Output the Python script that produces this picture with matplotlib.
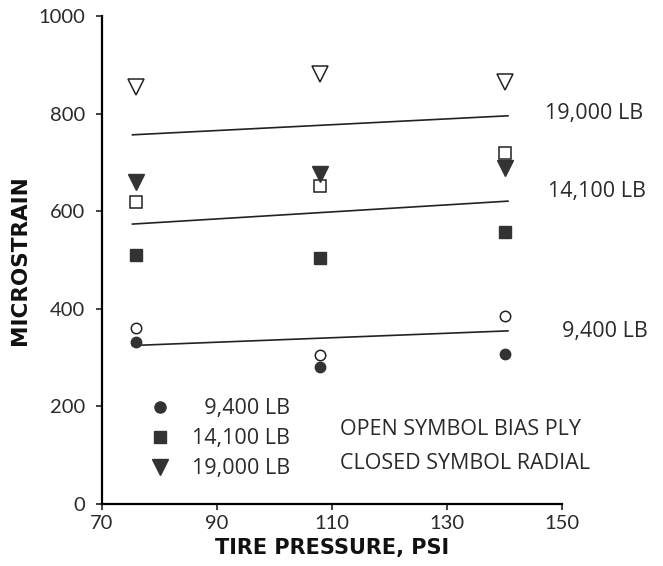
import matplotlib
matplotlib.use("Agg")
import matplotlib.pyplot as plt
from matplotlib.lines import Line2D

# ---- data ----
pressure = [76, 108, 140]
bias_9400 = [361, 306, 385]
radial_9400 = [333, 281, 308]
bias_14100 = [619, 652, 719]
radial_14100 = [510, 505, 557]
bias_19000 = [856, 882, 865]
radial_19000 = [660, 677, 688]

fit_x = [75.3, 140.6]
fit_9400 = [325, 355]
fit_14100 = [574, 621]
fit_19000 = [757, 796]

load_labels = ["9,400 LB", "14,100 LB", "19,000 LB"]
x_ticks = [70, 90, 110, 130, 150]
y_ticks = [0, 200, 400, 600, 800, 1000]

DARK = "#333333"
TXT = "#2a2a2a"
FONT = ["Open Sans", "DejaVu Sans"]
TICKFONT = ["Lato", "DejaVu Sans"]
BOLD = ["DejaVu Sans"]
FS = 15.5

fig = plt.figure(figsize=(6.63, 5.66), dpi=100)
ax = fig.add_axes([0.1538, 0.1095, 0.6939, 0.8617])

# fit lines
for fy in (fit_9400, fit_14100, fit_19000):
    ax.plot(fit_x, fy, color="#222222", lw=1.2, zorder=2)

ms_c, ms_s, ms_t = 7.5, 8.6, 11.5
# open symbols (bias ply)
ax.plot(pressure, bias_9400, "o", ms=ms_c, mfc="white", mec="#222222", mew=1.1, ls="none", zorder=3)
ax.plot(pressure, bias_14100, "s", ms=ms_s, mfc="white", mec="#222222", mew=1.1, ls="none", zorder=3)
ax.plot(pressure, bias_19000, "v", ms=ms_t, mfc="white", mec="#222222", mew=1.1, ls="none", zorder=3)
# closed symbols (radial)
ax.plot(pressure, radial_9400, "o", ms=ms_c, mfc=DARK, mec=DARK, ls="none", zorder=4)
ax.plot(pressure, radial_14100, "s", ms=ms_s, mfc=DARK, mec=DARK, ls="none", zorder=4)
ax.plot(pressure, radial_19000, "v", ms=ms_t, mfc=DARK, mec=DARK, ls="none", zorder=4)

# line labels
label_pos = [(147.0, 801, load_labels[2]), (147.6, 640, load_labels[1]), (150.0, 353, load_labels[0])]
for x0, y0, lab in label_pos:
    ax.text(x0, y0, lab, ha="left", va="center", fontsize=FS, color=TXT, family=FONT,
            clip_on=False)

# legend
handles = [Line2D([], [], marker="o", ms=ms_c + 0.5, color=DARK, ls="none"),
           Line2D([], [], marker="s", ms=ms_s, color=DARK, ls="none"),
           Line2D([], [], marker="v", ms=ms_t, color=DARK, ls="none")]
labels = ["\u2007" + load_labels[0], load_labels[1], load_labels[2]]
leg = ax.legend(handles, labels, loc="upper left", bbox_to_anchor=(0.07, 0.248),
                frameon=False, handlelength=1.0, handletextpad=1.0, labelspacing=0.42,
                borderpad=0.2, prop={"family": FONT, "size": FS})
for t in leg.get_texts():
    t.set_color(TXT)

ax.text(111.4, 152, "OPEN SYMBOL BIAS PLY", ha="left", va="center", fontsize=FS,
        color=TXT, family=FONT)
ax.text(111.4, 84, "CLOSED SYMBOL RADIAL", ha="left", va="center", fontsize=FS,
        color=TXT, family=FONT)

# axes styling
ax.set_xlim(70, 150)
ax.set_ylim(0, 1000)
ax.set_xticks(x_ticks)
ax.set_yticks(y_ticks)
ax.spines["top"].set_visible(False)
ax.spines["right"].set_visible(False)
ax.spines["left"].set_linewidth(1.6)
ax.spines["bottom"].set_linewidth(1.6)
ax.tick_params(direction="out", length=4, width=1.2, labelsize=14.5, colors="#222222",
               labelcolor=TXT)
ax.tick_params(axis="y", pad=8)
ax.tick_params(axis="x", pad=4)
for lab in ax.get_xticklabels() + ax.get_yticklabels():
    lab.set_family(TICKFONT)

ax.set_xlabel("TIRE PRESSURE, PSI", fontsize=15, fontweight="bold",
              family=BOLD, color="#111111", labelpad=4)
ax.set_ylabel("MICROSTRAIN", fontsize=15.5, fontweight="bold",
              family=BOLD, color="#111111", labelpad=6)

fig.savefig("out.png", dpi=100, facecolor="white")
